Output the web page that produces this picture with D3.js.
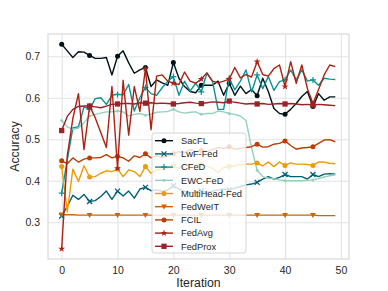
<!DOCTYPE html>
<html>
<head>
<meta charset="utf-8">
<script src="https://cdn.jsdelivr.net/npm/d3@7"></script>
<style>
  body { margin: 0; background: #fff; }
  text { font-family: "Liberation Sans", Arial, sans-serif; fill: #262626; }
</style>
</head>
<body>
<svg id="chart" width="388" height="291"></svg>
<script>
/////////////////////////////////// DONNEES ///////////////////////////////////
var iterations = d3.range(50);
var xTicks = [0, 10, 20, 30, 40, 50];
var yTicks = [0.3, 0.4, 0.5, 0.6, 0.7];

var seriesNames = ["SacFL", "LwF-Fed", "CFeD", "EWC-FeD", "MultiHead-Fed", "FedWeIT", "FCIL", "FedAvg", "FedProx"];

var sacfl = [0.729,0.713,0.697,0.711,0.710,0.702,0.695,0.695,0.697,0.655,
             0.700,0.713,0.684,0.659,0.667,0.673,0.627,0.643,0.636,0.630,
             0.685,0.647,0.627,0.615,0.612,0.630,0.630,0.630,0.640,0.606,
             0.635,0.606,0.628,0.610,0.620,0.605,0.647,0.615,0.574,0.562,
             0.560,0.572,0.586,0.603,0.615,0.579,0.610,0.594,0.602,0.602];
var lwf = [0.315,0.338,0.365,0.355,0.367,0.350,0.352,0.362,0.375,0.355,
           0.375,0.363,0.375,0.358,0.380,0.384,0.376,0.378,0.374,0.378,
           0.388,0.380,0.375,0.371,0.373,0.376,0.371,0.375,0.378,0.380,
           0.378,0.382,0.386,0.390,0.392,0.396,0.404,0.410,0.404,0.408,
           0.415,0.410,0.410,0.410,0.404,0.415,0.410,0.416,0.417,0.416];
var cfed = [0.370,0.450,0.527,0.530,0.578,0.572,0.598,0.600,0.584,0.606,
            0.608,0.607,0.632,0.568,0.600,0.625,0.610,0.606,0.624,0.640,
            0.651,0.606,0.640,0.616,0.635,0.614,0.659,0.640,0.572,0.572,
            0.647,0.619,0.640,0.667,0.614,0.655,0.622,0.651,0.618,0.639,
            0.643,0.667,0.643,0.667,0.640,0.643,0.630,0.647,0.645,0.644];
var ewc = [0.545,0.530,0.524,0.527,0.540,0.556,0.560,0.563,0.566,0.566,
           0.568,0.566,0.556,0.560,0.562,0.558,0.560,0.565,0.566,0.567,
           0.572,0.566,0.563,0.565,0.566,0.560,0.562,0.562,0.568,0.566,
           0.562,0.560,0.556,0.545,0.480,0.425,0.410,0.406,0.405,0.402,
           0.400,0.400,0.400,0.400,0.401,0.402,0.405,0.409,0.412,0.414];
var multihead = [0.434,0.325,0.428,0.398,0.436,0.409,0.410,0.418,0.424,0.422,
                 0.428,0.410,0.426,0.422,0.410,0.434,0.418,0.426,0.428,0.430,
                 0.436,0.430,0.440,0.438,0.440,0.440,0.435,0.430,0.420,0.432,
                 0.434,0.436,0.438,0.440,0.440,0.443,0.436,0.445,0.434,0.445,
                 0.437,0.443,0.440,0.440,0.439,0.437,0.445,0.445,0.442,0.441];
var fedweit = [0.318,0.318,0.318,0.317,0.317,0.317,0.317,0.317,0.317,0.317,
               0.317,0.317,0.317,0.317,0.317,0.317,0.317,0.317,0.317,0.317,
               0.317,0.317,0.317,0.317,0.317,0.317,0.317,0.317,0.317,0.317,
               0.317,0.317,0.317,0.317,0.317,0.317,0.317,0.317,0.317,0.317,
               0.317,0.317,0.317,0.317,0.317,0.317,0.316,0.316,0.316,0.316];
var fcil = [0.448,0.441,0.455,0.445,0.452,0.455,0.455,0.456,0.463,0.455,
            0.459,0.455,0.447,0.460,0.456,0.465,0.455,0.460,0.456,0.460,
            0.465,0.470,0.468,0.475,0.470,0.473,0.470,0.475,0.480,0.478,
            0.482,0.476,0.478,0.480,0.482,0.488,0.481,0.482,0.488,0.490,
            0.496,0.485,0.476,0.479,0.480,0.482,0.490,0.498,0.499,0.494];
var fedavg = [0.236,0.460,0.550,0.610,0.475,0.580,0.552,0.516,0.480,0.627,
              0.430,0.642,0.510,0.627,0.567,0.670,0.523,0.652,0.655,0.640,
              0.635,0.632,0.662,0.640,0.635,0.645,0.660,0.640,0.636,0.640,
              0.645,0.673,0.648,0.656,0.650,0.687,0.656,0.652,0.670,0.679,
              0.627,0.687,0.635,0.679,0.622,0.586,0.620,0.655,0.679,0.675];
var fedprox = [0.521,0.555,0.572,0.579,0.580,0.580,0.578,0.576,0.580,0.584,
               0.585,0.586,0.586,0.585,0.588,0.587,0.588,0.586,0.587,0.586,
               0.585,0.586,0.588,0.589,0.587,0.586,0.588,0.590,0.589,0.588,
               0.592,0.589,0.587,0.585,0.586,0.585,0.586,0.584,0.585,0.586,
               0.585,0.586,0.585,0.583,0.584,0.582,0.584,0.583,0.582,0.581];

var seriesValues = [sacfl, lwf, cfed, ewc, multihead, fedweit, fcil, fedavg, fedprox];

/////////////////////////////////// SYMBOLOGIE ///////////////////////////////////
var colors = ["#001219", "#005f73", "#0a9396", "#94d2bd", "#ee9b00", "#ca6702", "#bb3e03", "#ae2012", "#9b2226"];
var markers = ["circle", "x", "plus", "dot", "circle", "tri", "circle", "star", "square"];

var series = seriesNames.map(function(name, i) {
  return { name: name, values: seriesValues[i], color: colors[i], marker: markers[i] };
});

// dessin d'un marqueur façon matplotlib
function drawMarker(sel, type, color) {
  if (type === "circle") {
    sel.append("circle").attr("r", 2.5).attr("fill", color);
  } else if (type === "dot") {
    sel.append("circle").attr("r", 1.5).attr("fill", color);
  } else if (type === "x") {
    sel.append("path").attr("d", "M-2.5,-2.5L2.5,2.5M-2.5,2.5L2.5,-2.5")
       .attr("stroke", color).attr("stroke-width", 1.3).attr("fill", "none");
  } else if (type === "plus") {
    sel.append("path").attr("d", "M-3,0H3M0,-3V3")
       .attr("stroke", color).attr("stroke-width", 1.2).attr("fill", "none");
  } else if (type === "tri") {
    sel.append("path").attr("d", "M-2.9,-2.2L2.9,-2.2L0,2.8Z").attr("fill", color);
  } else if (type === "star") {
    sel.append("path").attr("d", d3.symbol().type(d3.symbolStar).size(15)()).attr("fill", color);
  } else if (type === "square") {
    sel.append("path").attr("d", d3.symbol().type(d3.symbolSquare).size(28)()).attr("fill", color);
  }
}

/////////////////////////////////// GRAPHIQUE ///////////////////////////////////
var plotLeft = 48, plotRight = 349, plotTop = 34, plotBottom = 259;
var svg = d3.select("#chart");

var allValues = d3.merge(seriesValues);
var ext = d3.extent(allValues);
var pad = (ext[1] - ext[0]) * 0.05;
var xPad = (iterations.length - 1) * 0.05;

var x = d3.scaleLinear().domain([-xPad, iterations.length - 1 + xPad]).range([plotLeft, plotRight]);
var y = d3.scaleLinear().domain([ext[0] - pad, ext[1] + pad]).range([plotBottom, plotTop]);

// grille
svg.append("g")
   .attr("transform", "translate(0," + plotBottom + ")")
   .call(d3.axisBottom(x).tickValues(xTicks).tickSize(-(plotBottom - plotTop)).tickFormat(d3.format("d")).tickPadding(8))
   .call(function(g) {
     g.select(".domain").remove();
     g.selectAll(".tick line").attr("stroke", "#e3e3e3").attr("stroke-width", 1.1);
     g.selectAll(".tick text").attr("font-size", 10.5).attr("fill", "#262626")
      .style("font-family", "'Liberation Sans', Arial, sans-serif");
   });

svg.append("g")
   .attr("transform", "translate(" + plotLeft + ",0)")
   .call(d3.axisLeft(y).tickValues(yTicks).tickSize(-(plotRight - plotLeft)).tickFormat(d3.format(".1f")).tickPadding(8))
   .call(function(g) {
     g.select(".domain").remove();
     g.selectAll(".tick line").attr("stroke", "#e3e3e3").attr("stroke-width", 1.1);
     g.selectAll(".tick text").attr("font-size", 10.5).attr("fill", "#262626")
      .style("font-family", "'Liberation Sans', Arial, sans-serif");
   });

// cadre
svg.append("rect")
   .attr("x", plotLeft).attr("y", plotTop)
   .attr("width", plotRight - plotLeft).attr("height", plotBottom - plotTop)
   .attr("fill", "none").attr("stroke", "#dcdcdc").attr("stroke-width", 1.3);

// courbes
var line = d3.line()
  .x(function(d, i) { return x(iterations[i]); })
  .y(function(d) { return y(d); });

var plot = svg.append("g");
series.forEach(function(s) {
  plot.append("path")
      .datum(s.values)
      .attr("d", line)
      .attr("fill", "none")
      .attr("stroke", s.color)
      .attr("stroke-width", 1.4)
      .attr("stroke-linejoin", "round");

  // un marqueur toutes les 5 itérations
  s.values.forEach(function(v, i) {
    if (i % 5 !== 0) return;
    var m = plot.append("g").attr("transform", "translate(" + x(iterations[i]) + "," + y(v) + ")");
    drawMarker(m, s.marker, s.color);
  });
});

// titres des axes
svg.append("text")
   .attr("x", (plotLeft + plotRight) / 2).attr("y", 287)
   .attr("text-anchor", "middle").attr("font-size", 12.3)
   .text("Iteration");

svg.append("text")
   .attr("transform", "translate(19," + ((plotTop + plotBottom) / 2) + ") rotate(-90)")
   .attr("text-anchor", "middle").attr("font-size", 12.3)
   .text("Accuracy");

/////////////////////////////////// LEGENDE ///////////////////////////////////
var legend = svg.append("g");
legend.append("rect")
      .attr("x", 152).attr("y", 133).attr("width", 94).attr("height", 120)
      .attr("rx", 2.5)
      .attr("fill", "white").attr("fill-opacity", 0.8)
      .attr("stroke", "#d0d0d0").attr("stroke-width", 0.9);

series.forEach(function(s, i) {
  var ly = 140.7 + i * 13.2;
  legend.append("line")
        .attr("x1", 155).attr("x2", 173).attr("y1", ly).attr("y2", ly)
        .attr("stroke", s.color).attr("stroke-width", 1.4);
  var m = legend.append("g").attr("transform", "translate(164," + ly + ")");
  drawMarker(m, s.marker, s.color);
  legend.append("text")
        .attr("x", 181).attr("y", ly).attr("dy", "0.35em")
        .attr("font-size", 9.3)
        .text(s.name);
});
</script>
</body>
</html>
